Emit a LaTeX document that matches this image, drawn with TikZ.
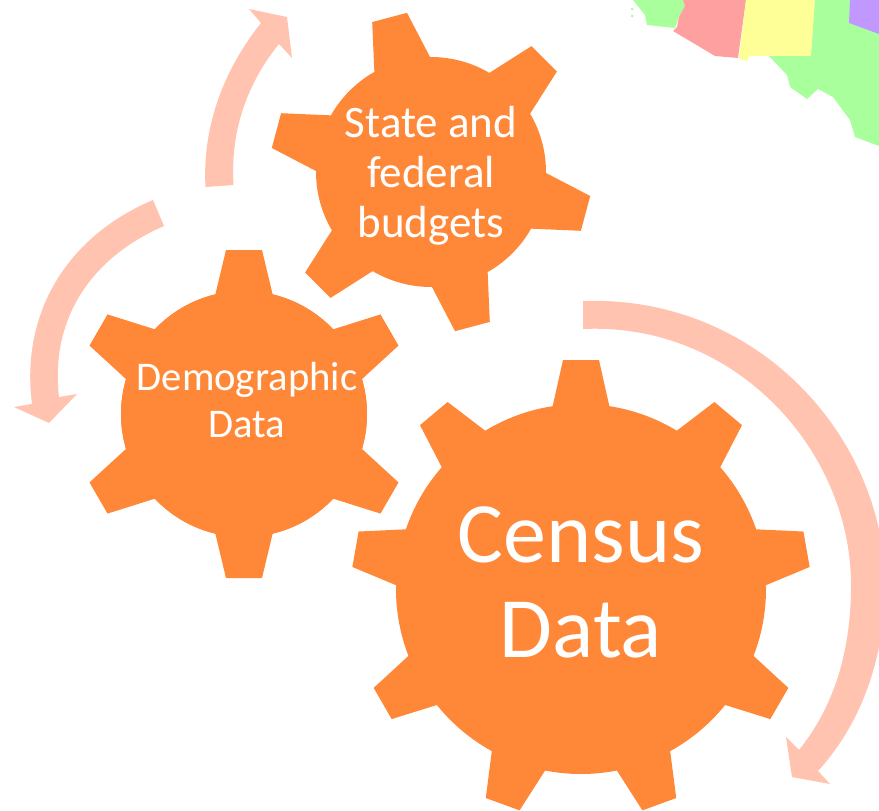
\documentclass[tikz,border=0pt]{standalone}
\usepackage{fontspec}
\setmainfont{Carlito}
\definecolor{gear_orange}{RGB}{255,136,56}
\definecolor{arrow_pink}{RGB}{255,195,176}
\definecolor{map_green}{RGB}{168,255,156}
\definecolor{map_red}{RGB}{255,160,160}
\definecolor{map_yellow}{RGB}{255,255,152}
\definecolor{map_purple}{RGB}{192,152,255}
% 齿轮:圆心, 圆半径, 齿根半径, 齿顶半径, 齿根半宽, 齿顶半宽, 齿的角度
\newcommand{\geardraw}[7]{
   \fill[gear_style] (#1) circle (#2pt);
   \foreach \a in {#7} {
      \fill[gear_style, shift={(#1)}, rotate=\a]
         (#3,-#5) -- (#4,-#6) -- (#4,#6) -- (#3,#5) -- cycle;
   }
}
\begin{document}
\begin{tikzpicture}[
       x=1pt, y=-1pt,
       gear_style/.style={fill=gear_orange},
       arrow_style/.style={fill=arrow_pink},
       label_style/.style={text=white, align=center, inner sep=0pt}
   ]
   \useasboundingbox (0,0) rectangle (879,811);

   % 1. 右上角的地图
   \fill[map_green] (633,0) -- (683,0) -- (685,6) -- (679,17) -- (675,28) -- (647,25) -- (645,15) -- cycle;
   \fill[map_green] (632,9) circle (1.5pt) (632,16) circle (1.5pt);
   \fill[map_red] (683,0) -- (746,0) -- (738,58) -- (715,56) -- (673,31) -- (677,27) -- (679,17) -- (685,6) -- cycle;
   \fill[map_yellow] (746,0) -- (815,0) -- (811,56) -- (749,56) -- (748,61) -- (739,59) -- cycle;
   \fill[map_green] (815,0) -- (879,0) -- (879,146) -- (855,137) -- (850,120) -- (833,97) -- (818,89) -- (807,99) -- (790,87) -- (787,75) -- (769,56) -- (811,56) -- cycle;
   \fill[map_purple] (850,0) -- (849,23) -- (879,34) -- (879,0) -- cycle;

   % 2. 三个弯箭头
   \fill[arrow_style] (205.5,187) .. controls (202,125) and (225,68) .. (261,23)
      -- (249,9) -- (287,17) -- (292,58) -- (279,44)
      .. controls (248,82) and (230,130) .. (233.5,185) -- cycle;
   \fill[arrow_style] (153,200) .. controls (70,235) and (20,310) .. (32,404)
      -- (14,407) -- (49,423) -- (77,394) -- (59,397)
      .. controls (50,320) and (90,258) .. (164,226) -- cycle;
   \fill[arrow_style] (583,301) .. controls (760,295) and (885,440) .. (885,585)
      .. controls (885,660) and (860,725) .. (818,771)
      -- (830,784) -- (792,777) -- (786,737) -- (799,750)
      .. controls (835,705) and (851,650) .. (851,585)
      .. controls (851,450) and (735,322) .. (583,329) -- cycle;

   % 3. 三个齿轮
   \coordinate (census_center) at (581,589);
   \coordinate (demographic_center) at (244,414);
   \coordinate (budget_center) at (431,172);
   \geardraw{census_center}{185}{180}{229}{29}{18}{90,50,10,-30,-70,-110,-150,-190,-230}
   \geardraw{demographic_center}{123}{114}{164}{30}{18}{90,-90}
   \geardraw{demographic_center}{123}{114}{168}{30}{18}{30,-30,-150,-210}
   \geardraw{budget_center}{115}{106}{160}{30}{18}{105,45,-15,-75,-135,-195}

   % 4. 文字
   \node[label_style, font=\fontsize{86}{95}\selectfont] (census_label) at (581,582) {Census\\Data};
   \node[label_style, font=\fontsize{40.7}{47}\selectfont] (demographic_label) at (247,400) {Demographic\\Data};
   \node[label_style, font=\fontsize{45}{50}\selectfont] (budget_label) at (431,176) {State and\\federal\\budgets};

\end{tikzpicture}
\end{document}
